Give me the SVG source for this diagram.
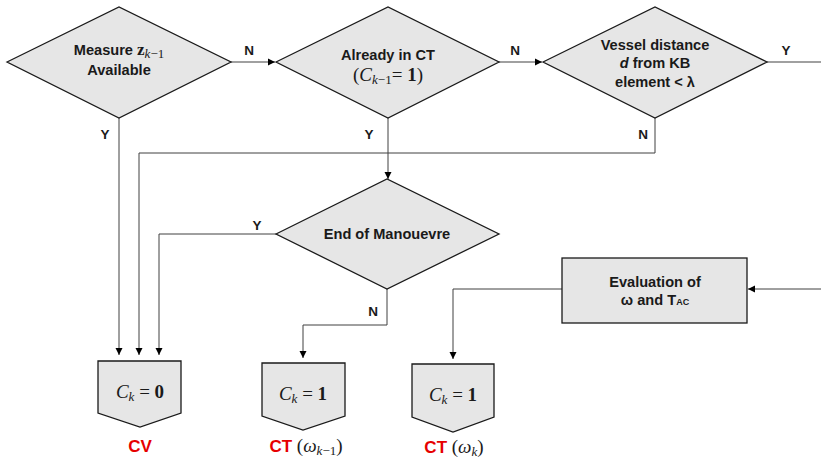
<svg xmlns="http://www.w3.org/2000/svg" width="821" height="458" viewBox="0 0 821 458">
<style>
.shape{fill:#e6e6e6;stroke:#1a1a1a;stroke-width:1.3}
.t{font-family:"Liberation Sans",Arial,sans-serif;font-weight:bold;font-size:14.6px;fill:#1a1a1a;text-anchor:middle}
.m{font-family:"Liberation Serif","DejaVu Serif",serif;font-size:19px;fill:#1a1a1a}
.lbl{font-family:"Liberation Sans",Arial,sans-serif;font-weight:bold;font-size:13.5px;fill:#1a1a1a;text-anchor:middle}
.red{font-family:"Liberation Sans",Arial,sans-serif;font-weight:bold;font-size:17px;fill:#e60000}
.c{fill:none;stroke:#404040;stroke-width:1}
.g{fill:none;stroke:#808080;stroke-width:1.5}
</style>
<defs>
<marker id="ah" markerWidth="8" markerHeight="8" refX="7" refY="4" orient="auto" markerUnits="userSpaceOnUse">
<path d="M0,0.5 L7,4 L0,7.5 Z" fill="#000"/>
</marker>
</defs>
<rect width="821" height="458" fill="#fff"/>
<g id="connectors">
<path class="g" d="M231,62 H275" marker-end="url(#ah)"/>
<path class="g" d="M499,62 H542" marker-end="url(#ah)"/>
<path class="g" d="M767,62 H821"/>
<path class="c" d="M119,118 V355" marker-end="url(#ah)"/>
<path class="c" d="M655,118 V153 H139 V355" marker-end="url(#ah)"/>
<path class="c" d="M388,118 V179" marker-end="url(#ah)"/>
<path class="c" d="M276,234 H159 V355" marker-end="url(#ah)"/>
<path class="c" d="M387,289 V325 H303 V358" marker-end="url(#ah)"/>
<path class="c" d="M562,289 H453 V359" marker-end="url(#ah)"/>
<path class="c" d="M821,289 H748" marker-end="url(#ah)"/>
<text class="lbl" x="249" y="55">N</text>
<text class="lbl" x="515" y="55">N</text>
<text class="lbl" x="786" y="55">Y</text>
<text class="lbl" x="105" y="139">Y</text>
<text class="lbl" x="369" y="139">Y</text>
<text class="lbl" x="643" y="139">N</text>
<text class="lbl" x="257" y="230">Y</text>
<text class="lbl" x="373" y="316">N</text>
</g>
<g id="measure">
<polygon class="shape" points="7,62 119,7 231,62 119,118"/>
<text class="t" x="119" y="55">Measure <tspan font-family="Liberation Serif,serif" font-size="17px">z</tspan><tspan font-family="Liberation Serif,serif" font-weight="normal" font-style="italic" font-size="13px" dy="3">k</tspan><tspan font-family="Liberation Serif,serif" font-weight="normal" font-size="13px">−1</tspan></text>
<text class="t" x="119" y="75">Available</text>
</g>
<g id="already">
<polygon class="shape" points="276,62 388,7 499,62 388,118"/>
<text class="t" x="388" y="60">Already in CT</text>
<text class="m" x="388" y="81" text-anchor="middle" font-size="18px">(<tspan font-style="italic">C</tspan><tspan font-style="italic" font-size="13px" dy="3">k</tspan><tspan font-size="13px">−1</tspan><tspan dy="-3">= </tspan><tspan font-weight="bold">1</tspan>)</text>
</g>
<g id="vessel">
<polygon class="shape" points="543,62 655,7 767,62 655,118"/>
<text class="t" x="655" y="50">Vessel distance</text>
<text class="t" x="655" y="68"><tspan font-style="italic">d</tspan> from KB</text>
<text class="t" x="655" y="87">element &lt; λ</text>
</g>
<g id="end">
<polygon class="shape" points="276,234 387,179 499,234 387,289"/>
<text class="t" x="387" y="239">End of Manouevre</text>
</g>
<g id="evaluation">
<rect class="shape" x="562" y="258" width="185" height="65"/>
<text class="t" x="655" y="287">Evaluation of</text>
<text class="t" x="655" y="305">ω and T<tspan font-size="9px">AC</tspan></text>
</g>
<g id="cv">
<polygon class="shape" points="98,361 181,361 181,413 140,427 98,413"/>
<text class="m" x="140" y="398" text-anchor="middle"><tspan font-style="italic">C</tspan><tspan font-style="italic" font-size="13px" dy="3">k</tspan><tspan dy="-3"> = </tspan><tspan font-weight="bold">0</tspan></text>
<text class="red" x="140" y="452" text-anchor="middle">CV</text>
</g>
<g id="ct1">
<polygon class="shape" points="262,363 345,363 345,416 303,430 262,416"/>
<text class="m" x="303" y="400" text-anchor="middle"><tspan font-style="italic">C</tspan><tspan font-style="italic" font-size="13px" dy="3">k</tspan><tspan dy="-3"> = </tspan><tspan font-weight="bold">1</tspan></text>
<text x="306" y="452" text-anchor="middle"><tspan class="red">CT</tspan><tspan class="m"> (<tspan font-style="italic">ω</tspan><tspan font-style="italic" font-size="13px" dy="3">k</tspan><tspan font-size="13px">−1</tspan><tspan dy="-3">)</tspan></tspan></text>
</g>
<g id="ct2">
<polygon class="shape" points="412,364 494,364 494,417 453,432 412,417"/>
<text class="m" x="453" y="401" text-anchor="middle"><tspan font-style="italic">C</tspan><tspan font-style="italic" font-size="13px" dy="3">k</tspan><tspan dy="-3"> = </tspan><tspan font-weight="bold">1</tspan></text>
<text x="454" y="453" text-anchor="middle"><tspan class="red">CT</tspan><tspan class="m"> (<tspan font-style="italic">ω</tspan><tspan font-style="italic" font-size="13px" dy="3">k</tspan><tspan dy="-3">)</tspan></tspan></text>
</g>
</svg>
